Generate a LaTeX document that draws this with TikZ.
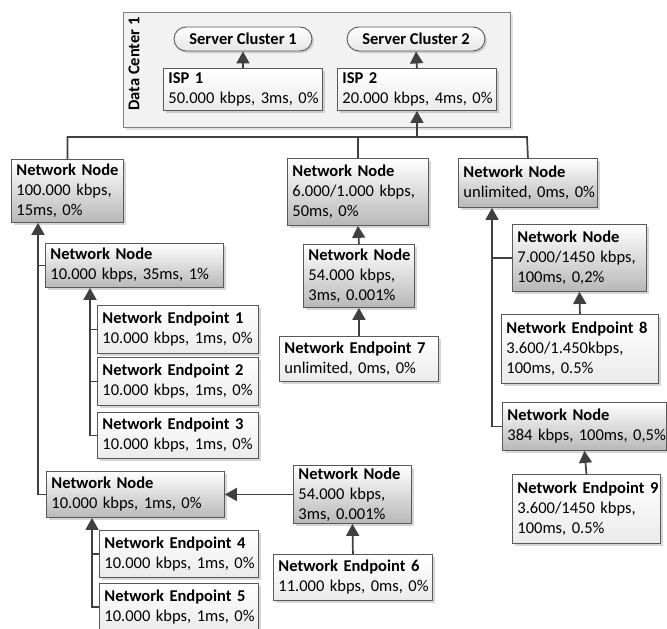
\documentclass[tikz,border=0pt]{standalone}
\usepackage{fontspec}
\setmainfont{Carlito}
\usetikzlibrary{arrows.meta,shadows,calc}
\definecolor{ln}{HTML}{404040}
\definecolor{bd}{HTML}{595959}
\definecolor{dcfill}{HTML}{F2F2F2}
\tikzset{
  base/.style={draw=bd, line width=0.9pt, inner xsep=5pt, inner ysep=0pt, align=left,
    font=\fontsize{16.5}{20}\selectfont,
    drop shadow={shadow xshift=3pt, shadow yshift=-3pt, fill=black, opacity=0.16}},
  netnode/.style={base, top color=white, bottom color=black!28},
  endpt/.style={base, top color=white, bottom color=black!8},
  dcbox/.style={draw=black!50, line width=0.9pt, fill=dcfill,
    drop shadow={shadow xshift=3pt, shadow yshift=-3pt, fill=black, opacity=0.12}},
  scbox/.style={draw=bd, line width=0.9pt, rounded corners=12pt, top color=white, bottom color=black!10,
    font=\fontsize{16.5}{20}\selectfont\bfseries, inner sep=0pt,
    drop shadow={shadow xshift=2pt, shadow yshift=-2pt, fill=black, opacity=0.14}},
  conn/.style={draw=ln, line width=1.7pt},
  arr/.style={conn, -{Triangle[length=12pt,width=13pt]}},
}
\newcommand\tl[1]{\mbox{#1}}
\newcommand\hd[1]{\mbox{\bfseries #1}}
\newcommand\bx[7]{%
  \pgfmathsetmacro\bxw{#4-#2-10}\pgfmathsetmacro\bxh{#5-#3}%
  \node[#6, anchor=north west, text width=\bxw pt, minimum height=\bxh pt] (#1) at (#2,#3) {#7};}
\begin{document}
\begin{tikzpicture}[x=1pt,y=-1pt]
\useasboundingbox (0,0) rectangle (667,629);
\fill[white] (0,0) rectangle (667,629);
\clip (0,0) rectangle (667,629);
% data center
\node[dcbox, anchor=north west, minimum width=387pt, minimum height=115pt] (dc) at (123,12) {};
\node[rotate=90, font=\fontsize{16.5}{20}\selectfont\bfseries, inner sep=0pt] (dclabel) at (134,64) {Data Center 1};
\node[scbox, minimum width=138pt, minimum height=24pt] (sc1) at (243,39) {Server Cluster 1};
\node[scbox, minimum width=138pt, minimum height=24pt] (sc2) at (416,39) {Server Cluster 2};
\bx{isp1}{163}{68}{322}{110}{endpt}{\hd{ISP 1}\\\tl{50.000 kbps, 3ms, 0\%}}
\bx{isp2}{337}{68}{496}{110}{endpt}{\hd{ISP 2}\\\tl{20.000 kbps, 4ms, 0\%}}
% top row
\bx{nn1}{11}{159}{123}{222}{netnode}{\hd{Network Node}\\\tl{100.000 kbps,}\\\tl{15ms, 0\%}}
\bx{nnm}{287}{158}{428}{225}{netnode}{\hd{Network Node}\\\tl{6.000/1.000 kbps,}\\\tl{50ms, 0\%}}
\bx{nnr}{458}{158}{597}{207}{netnode}{\hd{Network Node}\\\tl{unlimited, 0ms, 0\%}}
% left
\bx{nn2}{45}{243}{223}{287}{netnode}{\hd{Network Node}\\\tl{10.000 kbps, 35ms, 1\%}}
\bx{e1}{97}{305}{258}{353}{endpt}{\hd{Network Endpoint 1}\\\tl{10.000 kbps, 1ms, 0\%}}
\bx{e2}{97}{357}{258}{405}{endpt}{\hd{Network Endpoint 2}\\\tl{10.000 kbps, 1ms, 0\%}}
\bx{e3}{97}{412}{258}{458}{endpt}{\hd{Network Endpoint 3}\\\tl{10.000 kbps, 1ms, 0\%}}
\bx{nn3}{46}{471}{224}{517}{netnode}{\hd{Network Node}\\\tl{10.000 kbps, 1ms, 0\%}}
\bx{e4}{99}{530}{258}{577}{endpt}{\hd{Network Endpoint 4}\\\tl{10.000 kbps, 1ms, 0\%}}
\bx{e5}{99}{583}{258}{630}{endpt}{\hd{Network Endpoint 5}\\\tl{10.000 kbps, 1ms, 0\%}}
\bx{nn4}{293}{465}{411}{523}{netnode}{\hd{Network Node}\\\tl{54.000 kbps,}\\\tl{3ms, 0.001\%}}
\bx{e6}{273}{554}{432}{600}{endpt}{\hd{Network Endpoint 6}\\\tl{11.000 kbps, 0ms, 0\%}}
% middle
\bx{nnm2}{303}{244}{414}{307}{netnode}{\hd{Network Node}\\\tl{54.000 kbps,}\\\tl{3ms, 0.001\%}}
\bx{e7}{279}{336}{438}{381}{endpt}{\hd{Network Endpoint 7}\\\tl{unlimited, 0ms, 0\%}}
% right
\bx{nnr2}{512}{224}{646}{291}{netnode}{\hd{Network Node}\\\tl{7.000/1450 kbps,}\\\tl{100ms, 0,2\%}}
\bx{e8}{501}{314}{658}{383}{endpt}{\hd{Network Endpoint 8}\\\tl{3.600/1.450kbps,}\\\tl{100ms, 0.5\%}}
\bx{nnr5}{502}{402}{666}{450}{netnode}{\hd{Network Node}\\\tl{384 kbps, 100ms, 0,5\%}}
\bx{e9}{512}{474}{660}{543}{endpt}{\hd{Network Endpoint 9}\\\tl{3.600/1450 kbps,}\\\tl{100ms, 0.5\%}}
% connectors
\draw[arr] (isp1.north) -- (sc1.south);
\draw[arr] (isp2.north) -- (sc2.south);
\coordinate (busR) at (527,137);
\draw[conn] (nn1.north) |- (busR) -- (nnr.north);
\draw[conn] (nnm.north) -- (nnm.north |- busR);
\draw[arr] (isp2.south |- busR) -- (isp2.south);
\coordinate (t1) at ($(nn1.south west)+(27,0)$);
\draw[arr] (nn3.west) -| (t1);
\draw[conn] (nn2.west) -- (nn2.west -| t1);
\coordinate (t2) at ($(nn2.south west)+(45,0)$);
\draw[arr] (e3.west) -| (t2);
\draw[conn] (e1.west) -- (e1.west -| t2);
\draw[conn] (e2.west) -- (e2.west -| t2);
\coordinate (t3) at ($(nn3.south west)+(46,0)$);
\draw[arr] (e5.west) -| (t3);
\draw[conn] (e4.west) -- (e4.west -| t3);
\draw[arr] (nn4.west) -- (nn3.east);
\draw[arr] (e6.north) -- (nn4.south);
\draw[arr] (nnm2.north) -- (nnm.south);
\draw[arr] (e7.north) -- (nnm2.south);
\coordinate (t4) at ($(nnr.south west)+(34,0)$);
\draw[arr] (nnr5.west) -| (t4);
\draw[conn] (nnr2.west) -- (nnr2.west -| t4);
\draw[arr] (e8.north) -- (nnr2.south);
\draw[arr] (e9.north) -- (nnr5.south);
\end{tikzpicture}
\end{document}
